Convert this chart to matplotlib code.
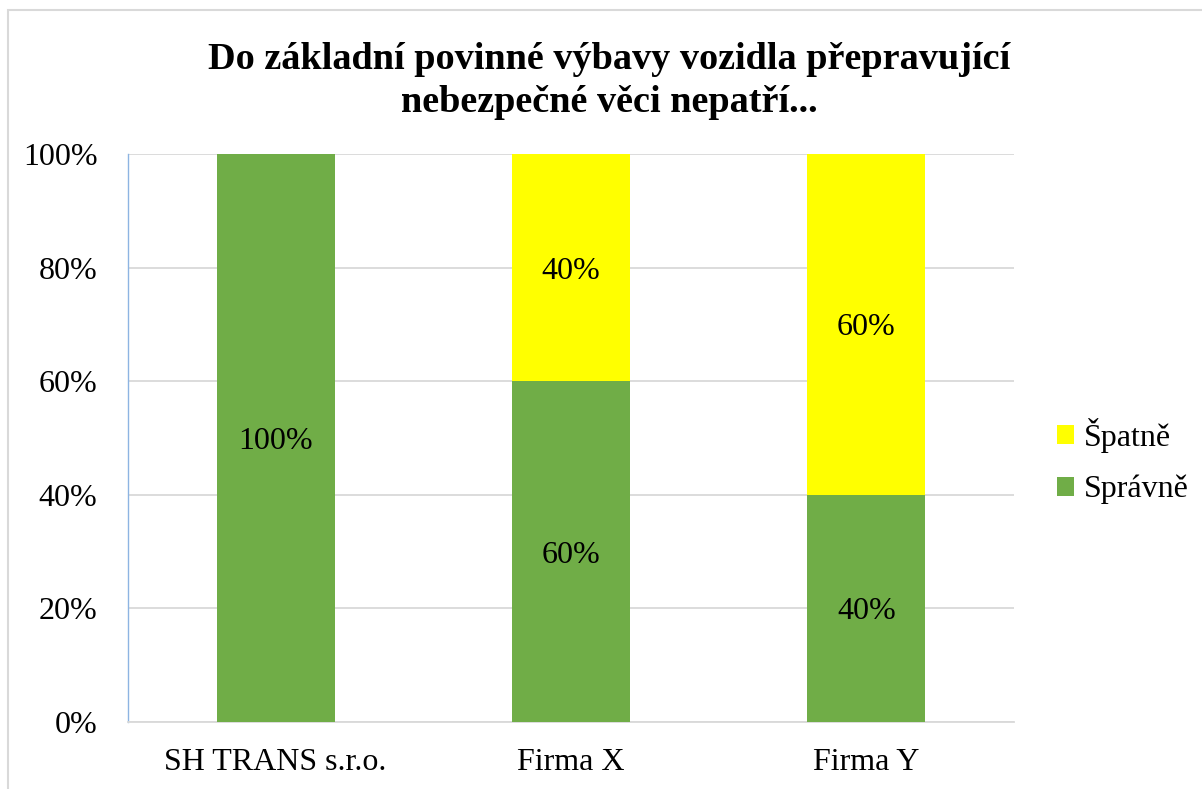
import matplotlib.pyplot as plt
from matplotlib.patches import Rectangle

# data
categories = ['SH TRANS s.r.o.', 'Firma X', 'Firma Y']
spravne = [100, 60, 40]
spatne = [0, 40, 60]
yticks = [0, 20, 40, 60, 80, 100]

plt.rcParams['font.family'] = ['Liberation Serif', 'DejaVu Serif']

fig = plt.figure(figsize=(12.02, 7.89), dpi=100)
ax = fig.add_axes([128 / 1202, 67 / 789, 886 / 1202, 568 / 789])

x = range(len(categories))
b1 = ax.bar(x, spravne, width=0.4, color='#70AD47', label='Správně', zorder=3)
b2 = ax.bar(x, spatne, width=0.4, bottom=spravne, color='#FFFF00', label='Špatně', zorder=3)

# popisky v sloupcich
for i in x:
    if spravne[i] > 0:
        ax.text(i, spravne[i] / 2, f'{spravne[i]}%', ha='center', va='center_baseline', fontsize=23, zorder=4)
    if spatne[i] > 0:
        ax.text(i, spravne[i] + spatne[i] / 2, f'{spatne[i]}%', ha='center', va='center_baseline', fontsize=23, zorder=4)

ax.set_xlim(-0.5, 2.5)
ax.set_ylim(0, 100)
ax.set_yticks(yticks)
ax.set_yticklabels([f'{v}%' for v in yticks])
ax.set_xticks(list(x))
ax.set_xticklabels(categories)
ax.tick_params(axis='both', length=0, labelsize=23)
ax.tick_params(axis='y', pad=22)
ax.tick_params(axis='x', pad=19)
ax.grid(axis='y', color='#d9d9d9', linewidth=1.3, zorder=0)

for s in ['top', 'right']:
    ax.spines[s].set_visible(False)
ax.spines['bottom'].set_color('#d9d9d9')
ax.spines['bottom'].set_linewidth(1.3)
ax.spines['left'].set_color('#8DB4E2')
ax.spines['left'].set_linewidth(1.0)

fig.text(609 / 1202, 1 - 81 / 789, 'Do základní povinné výbavy vozidla přepravující\nnebezpečné věci nepatří...',
         ha='center', va='center', fontsize=27.5, fontweight='bold', linespacing=1.33)

ax.legend([b2, b1], ['Špatně', 'Správně'], loc='center left', bbox_to_anchor=(1028 / 1202, 1 - 461 / 789),
          bbox_transform=fig.transFigure, frameon=False, fontsize=23, handlelength=0.55, handleheight=0.55,
          handletextpad=0.3, labelspacing=0.7)

# ramecek kolem grafu
fig.patches.append(Rectangle((8 / 1202, -0.05), 1.2, 1 - 10 / 789 + 0.05, transform=fig.transFigure,
                             fill=False, edgecolor='#d9d9d9', linewidth=1.5))

plt.savefig('out.png', dpi=100)
